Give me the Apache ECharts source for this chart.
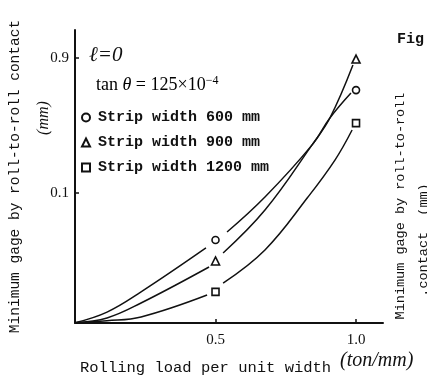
<!DOCTYPE html>
<html>
<head>
<meta charset="utf-8">
<script src="https://cdn.jsdelivr.net/npm/echarts@6/dist/echarts.min.js"></script>
<style>
  html, body { margin: 0; background: #fff; }
  #chart { width: 427px; height: 376px; }
</style>
</head>
<body>
<div id="chart"></div>
<script>
// tick labels
const xTicks = [0.5, 1.0];
const yTicks = [0.1, 0.9];

// strip widths
const widths = ['Strip width 600 mm', 'Strip width 900 mm', 'Strip width 1200 mm'];
const symbols = ['circle', 'triangle', 'rect'];

// measured points (load, gage)
const marks600 = [[0.5, 0.0466], [1.0, 0.534]];
const marks900 = [[0.5, 0.0331], [1.0, 0.885]];
const marks1200 = [[0.5, 0.0200], [1.0, 0.312]];

// fitted curves, '-' = gap round the marker
const curve600 = [[0, 0.0121], [0.114, 0.0144], [0.235, 0.0200], [0.466, 0.0409], [0.5, '-'],
  [0.541, 0.0530], [0.676, 0.0937], [0.843, 0.218], [0.907, 0.339], [0.982, 0.509]];
const curve900 = [[0, 0.0121], [0.114, 0.0131], [0.235, 0.0167], [0.477, 0.0300], [0.5, '-'],
  [0.527, 0.0377], [0.676, 0.0758], [0.843, 0.218], [0.907, 0.339], [0.989, 0.803]];
const curve1200 = [[0, 0.0121], [0.114, 0.0125], [0.235, 0.0133], [0.470, 0.0190], [0.5, '-'],
  [0.527, 0.0231], [0.676, 0.0396], [0.829, 0.0937], [0.925, 0.171], [0.986, 0.279]];

const marks = [marks600, marks900, marks1200];
const curves = [curve600, curve900, curve1200];

const ink = '#111';
const mono = '"Liberation Mono", "DejaVu Sans Mono", monospace';
const serif = '"Liberation Serif", "DejaVu Serif", serif';

const chart = echarts.init(document.getElementById('chart'));

const series = [];
curves.forEach((c, i) => {
  series.push({
    name: 'curve' + i,
    type: 'line',
    data: c,
    smooth: 0.4,
    showSymbol: false,
    connectNulls: false,
    lineStyle: { color: ink, width: 1.5 },
    silent: true
  });
});
marks.forEach((m, i) => {
  series.push({
    name: widths[i],
    type: 'scatter',
    data: m,
    symbol: symbols[i],
    symbolSize: i === 1 ? 8 : 7,
    itemStyle: { color: '#fff', borderColor: ink, borderWidth: 1.6, opacity: 1 }
  });
});

chart.setOption({
  animation: false,
  backgroundColor: '#fff',
  grid: { left: 75, right: 44, top: 30, bottom: 53, containLabel: false, outerBoundsMode: 'none' },
  legend: {
    data: widths,
    orient: 'vertical',
    left: 81,
    top: 110,
    padding: 0,
    itemWidth: 8,
    itemHeight: 8,
    itemGap: 10,
    textStyle: { fontFamily: mono, fontSize: 15, fontWeight: 'bold', color: ink, padding: [0, 0, 0, 3] }
  },
  xAxis: {
    type: 'value',
    min: 0,
    max: 1.096,
    axisLine: { lineStyle: { color: ink, width: 2 } },
    axisTick: { inside: true, length: 4, customValues: xTicks, lineStyle: { color: ink, width: 1.5 } },
    axisLabel: {
      customValues: xTicks,
      formatter: v => v.toFixed(1),
      fontFamily: serif, fontSize: 15, color: ink, margin: 10
    },
    splitLine: { show: false }
  },
  yAxis: {
    type: 'log',
    logBase: 10,
    min: 0.01206,
    max: 1.42,
    name: 'Minimum gage by roll-to-roll contact',
    nameLocation: 'middle',
    nameRotate: 90,
    nameGap: 52,
    nameTextStyle: { fontFamily: mono, fontSize: 14.5, color: ink },
    axisLine: { lineStyle: { color: ink, width: 2 } },
    axisTick: { inside: true, length: 4, customValues: yTicks, lineStyle: { color: ink, width: 1.5 } },
    axisLabel: {
      customValues: yTicks,
      formatter: v => String(v),
      fontFamily: serif, fontSize: 15, color: ink, margin: 6
    },
    minorTick: { show: false },
    splitLine: { show: false }
  },
  graphic: [
    { type: 'text', left: 89, top: 45,
      style: { text: 'ℓ=0', font: 'italic 21px ' + serif, fill: ink } },
    { type: 'text', left: 96, top: 75,
      style: {
        text: '{a|tan }{b|θ}{a| = 125×10}{s|−4}',
        rich: {
          a: { fontSize: 18, fontFamily: serif, color: ink },
          b: { fontSize: 18, fontFamily: serif, fontStyle: 'italic', color: ink },
          s: { fontSize: 12, fontFamily: serif, color: ink, verticalAlign: 'top', padding: [0, 0, 9, 0] }
        }
      } },
    { type: 'text', x: 44, y: 118, rotation: Math.PI / 2,
      style: { text: '(mm)', font: 'italic 16px ' + serif, fill: ink, align: 'center', verticalAlign: 'middle' } },
    { type: 'text', left: 80, top: 360,
      style: { text: 'Rolling load per unit width', font: '15.5px ' + mono, fill: ink } },
    { type: 'text', left: 340, top: 351,
      style: { text: '(ton/mm)', font: 'italic 20px ' + serif, fill: ink } },
    { type: 'text', left: 397, top: 32,
      style: { text: 'Fig', font: 'bold 15px ' + mono, fill: ink } },
    { type: 'text', x: 400, y: 206, rotation: Math.PI / 2,
      style: { text: 'Minimum gage by roll-to-roll', font: '13.5px ' + mono, fill: ink, align: 'center', verticalAlign: 'middle' } },
    { type: 'text', x: 423, y: 240, rotation: Math.PI / 2,
      style: { text: '.contact  (mm)', font: '13.5px ' + mono, fill: ink, align: 'center', verticalAlign: 'middle' } }
  ],
  series: series
});
</script>
</body>
</html>
